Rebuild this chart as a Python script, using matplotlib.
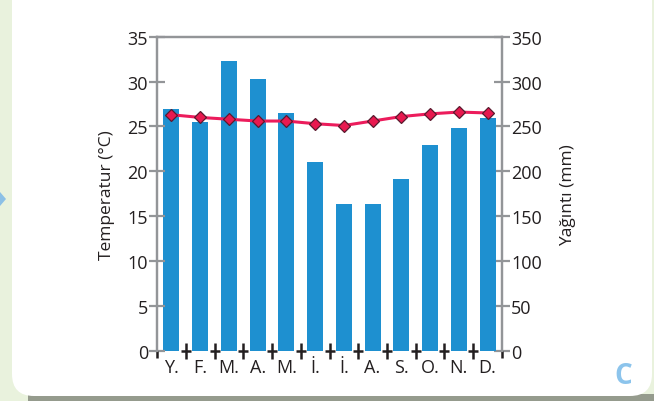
import matplotlib
matplotlib.use("Agg")
import matplotlib.pyplot as plt
from matplotlib.patches import FancyBboxPatch, Polygon, Rectangle
import numpy as np

plt.rcParams["font.family"] = ["Open Sans", "DejaVu Sans"]

# Aylık iklim verisi
months = ["Y.", "F.", "M.", "A.", "M.", "İ.", "İ.", "A.", "S.", "O.", "N.", "D."]
rain_mm = [269, 255, 323, 303, 265, 210, 164, 164, 191, 229, 248, 259]
temp_c = [26.3, 26.0, 25.8, 25.6, 25.6, 25.3, 25.1, 25.6, 26.1, 26.4, 26.6, 26.5]

temp_ticks = list(range(0, 36, 5))
rain_ticks = list(range(0, 351, 50))

W, H = 654, 402
fig = plt.figure(figsize=(W / 100, H / 100), dpi=100)
fig.patch.set_facecolor("#e9f2dd")

# Arka plan kartı (piksel koordinatlı tam sayfa eksen)
bg = fig.add_axes([0, 0, 1, 1], zorder=-10)
bg.set_xlim(0, W)
bg.set_ylim(H, 0)
bg.axis("off")
bg.add_patch(Rectangle((28, 395), 630, 10, color="#959b8d", lw=0))
bg.add_patch(FancyBboxPatch((12, -30), 640, 427, boxstyle="round,pad=0,rounding_size=22",
                            fc="white", ec="none"))
bg.add_patch(Polygon([[0, 193], [6, 200], [0, 207]], closed=True, fc="#8cc0e6", ec="none"))
bg.text(623, 377, "C", ha="center", va="center", fontsize=20, fontweight="bold",
        color="#8cc4ec")

grey = "#939598"
ink = "#231f20"

ax = fig.add_axes([157 / W, 1 - 351.7 / H, 345 / W, 314 / H])
ax2 = ax.twinx()
x = np.arange(len(months))

ax2.bar(x, rain_mm, width=0.55, color="#1e90d0", zorder=2)
ax2.set_ylim(0, 350)
ax2.set_yticks(rain_ticks)

ax.plot(x, temp_c, color="#ec1c5c", lw=2.2, zorder=3,
        marker="D", ms=6.5, mfc="#e8194f", mec="#5a1a2e", mew=0.9)
ax.set_ylim(0, 35)
ax.set_yticks(temp_ticks)
ax.set_xlim(-0.5, 11.5)
ax.set_zorder(ax2.get_zorder() + 1)
ax.patch.set_visible(False)

for a in (ax, ax2):
    a.spines["bottom"].set_visible(False)
    for side in ("left", "right", "top"):
        a.spines[side].set_color(grey)
        a.spines[side].set_linewidth(1.6)
    a.tick_params(axis="y", direction="inout", length=11, width=1.6, color=grey,
                  labelsize=13, labelcolor=ink, pad=1)

ax.set_xticks(x)
ax.set_xticklabels(months)
ax.tick_params(axis="x", length=0, labelsize=13, labelcolor=ink, pad=5)
ax.set_xticks(x[:-1] + 0.5, minor=True)
ax.tick_params(axis="x", which="minor", direction="inout", length=11.5, width=1.8,
               color=ink)
ax.plot(x[:-1] + 0.5, np.zeros(len(x) - 1), ls="none", marker="_", ms=7.5, mew=1.8,
        color=ink, clip_on=False, zorder=4)
ax.vlines([-0.5, 11.5], -0.022, 0, transform=ax.get_xaxis_transform(), color=ink,
          lw=1.8, clip_on=False)

ax.set_ylabel("Temperatur (°C)", fontsize=12.5, color=ink, labelpad=9)
ax2.set_ylabel("Yağıntı (mm)", fontsize=12.5, color=ink, labelpad=13)

fig.savefig("out.png", dpi=100, facecolor=fig.get_facecolor())
